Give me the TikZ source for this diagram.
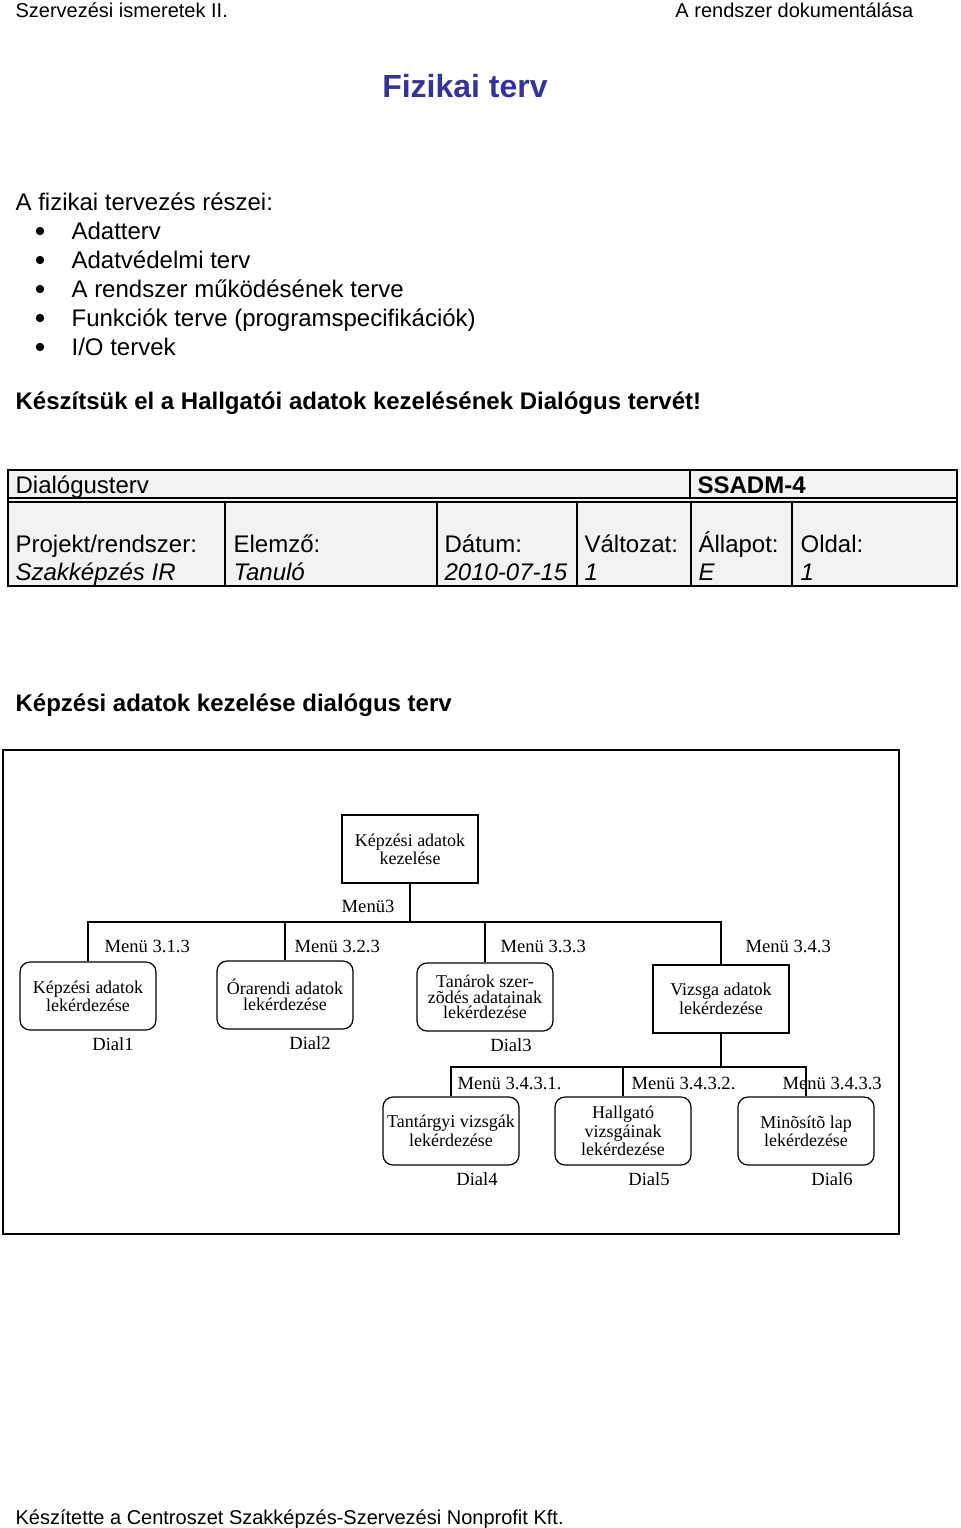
\documentclass[tikz,border=0pt]{standalone}
\usepackage{fontspec}
\setmainfont{Liberation Sans}
\newfontfamily\dlgfont{Liberation Serif}
\usetikzlibrary{positioning}
\definecolor{titleblue}{rgb}{0.2,0.2,0.6}
\definecolor{tablegray}{rgb}{0.95,0.95,0.95}

\begin{document}
\begin{tikzpicture}[
            x = 0.5pt, y = -0.5pt, % one unit = one pixel of the page
            semithick, % line style
            node distance = 3pt
            ]

        \tikzstyle{txt}=[anchor = base west, inner sep = 0, font = \fontsize{12}{14}\selectfont]
        \tikzstyle{small}=[txt, font = \fontsize{10}{12}\selectfont]
        \tikzstyle{bold}=[txt, font = \fontsize{12}{14}\selectfont\bfseries]
        \tikzstyle{dot}=[circle, fill, inner sep = 0, minimum size = 4.2pt]
        \tikzstyle{dlg}=[
            draw,
            rounded corners = 5pt,
            minimum width = 68pt,
            minimum height = 34pt,
            align = center,
            inner sep = 1pt,
            font = \dlgfont\fontsize{9}{7.9}\selectfont
        ]
        \tikzstyle{menubox}=[dlg, sharp corners]
        \tikzstyle{lbl}=[anchor = base west, inner sep = 0, font = \dlgfont\fontsize{9.3}{8}\selectfont]
        \tikzstyle{dial}=[inner sep = 0, font = \dlgfont\fontsize{9.3}{8}\selectfont]

	\useasboundingbox[fill = white] (0,0) rectangle (960,1528);

	% page head
	\node[small] (HL) at (15,17) {Szervezési ismeretek II.};
	\node[small, anchor = base east] (HR) at (914,17) {A rendszer dokumentálása};
	\node[inner sep = 0, anchor = base, font = \fontsize{16}{19}\selectfont\bfseries, text = titleblue] (T) at (465,97) {Fizikai terv};

	% list
	\node[txt] (I) at (15,210) {A fizikai tervezés részei:};
	\foreach \t [count = \i] in {Adatterv, Adatvédelmi terv, A rendszer működésének terve, Funkciók terve (programspecifikációk), I/O tervek} {
	    \node[dot] (P\i) at (40,202+29*\i) {};
	    \node[txt] (L\i) at (71,210+29*\i) {\t};
	}
	\node[bold] (K) at (15,409) {Készítsük el a Hallgatói adatok kezelésének Dialógus tervét!};

	% form head
	\draw[fill = tablegray] (8,470) rectangle (957,586);
	\draw (8,498) -- (957,498);
	\draw (8,502) -- (957,502);
	\draw (690,470) -- (690,498);
	\foreach \x in {225,437,577,691,792}
	    \draw (\x,502) -- (\x,586);
	\node[txt] (F0) at (15,493) {Dialógusterv};
	\node[bold] (F1) at (697,493) {SSADM-4};
	\node[txt] (A1) at (15,552) {Projekt/rendszer:};
	\node[txt] (A2) at (233,552) {Elemző:};
	\node[txt] (A3) at (444,552) {Dátum:};
	\node[txt] (A4) at (584,552) {Változat:};
	\node[txt] (A5) at (698,552) {Állapot:};
	\node[txt] (A6) at (800,552) {Oldal:};
	\node[txt, font = \fontsize{12}{14}\selectfont\itshape] (V1) at (15,580) {Szakképzés IR};
	\node[txt, font = \fontsize{12}{14}\selectfont\itshape] (V2) at (233,580) {Tanuló};
	\node[txt, font = \fontsize{12}{14}\selectfont\itshape] (V3) at (444,580) {2010-07-15};
	\node[txt, font = \fontsize{12}{14}\selectfont\itshape] (V4) at (584,580) {1};
	\node[txt, font = \fontsize{12}{14}\selectfont\itshape] (V5) at (698,580) {E};
	\node[txt, font = \fontsize{12}{14}\selectfont\itshape] (V6) at (800,580) {1};

	\node[bold] (S) at (15,711) {Képzési adatok kezelése dialógus terv};

	% dialogue tree
	\draw[line width = 1pt] (3,750) rectangle (899,1234);

	\node[menubox] (R) at (410,849) {Képzési adatok\\kezelése};

	\node[dlg] (B1) at (88,996) {Képzési adatok\\lekérdezése};
	\node[dlg] (B2) at (285,995) {Órarendi adatok\\lekérdezése};
	\node[dlg] (B3) at (485,997) {Tanárok szer-\\zõdés adatainak\\lekérdezése};
	\node[menubox] (B4) at (721,999) {Vizsga adatok\\lekérdezése};

	\coordinate (bus1) at (410,922);
	\draw (R.south) -- (bus1);
	\draw (B1.north) |- (bus1);
	\draw (B4.north) |- (bus1);
	\draw (B2.north) -- (B2.north |- bus1);
	\draw (B3.north) -- (B3.north |- bus1);

	\node[lbl, anchor = base east] (M0) at (395,912) {Menü3};
	\node[lbl] (M1) at (104,952) {Menü 3.1.3};
	\node[lbl] (M2) at (294,952) {Menü 3.2.3};
	\node[lbl] (M3) at (500,952) {Menü 3.3.3};
	\node[lbl] (M4) at (745,952) {Menü 3.4.3};

	\node[dial] (D1) [below = 3pt of B1, xshift = 12.5pt] {Dial1};
	\node[dial] (D2) [below = 3pt of B2, xshift = 12.5pt] {Dial2};
	\node[dial] (D3) [below = 3pt of B3, xshift = 13pt] {Dial3};

	% exam queries
	\node[dlg] (B5) at (451,1131) {Tantárgyi vizsgák\\lekérdezése};
	\node[dlg] (B6) at (623,1131) {Hallgató\\vizsgáinak\\lekérdezése};
	\node[dlg] (B7) at (806,1131) {Minõsítõ lap\\lekérdezése};

	\coordinate (bus2) at (721,1067);
	\draw (B4.south) -- (bus2);
	\draw (B5.north) |- (bus2);
	\draw (B7.north) |- (bus2);
	\draw (B6.north) -- (B6.north |- bus2);

	\node[lbl] (M5) at (457,1089) {Menü 3.4.3.1.};
	\node[lbl] (M6) at (631,1089) {Menü 3.4.3.2.};
	\node[lbl] (M7) at (782,1089) {Menü 3.4.3.3};

	\node[dial] (D4) [below = 3pt of B5, xshift = 13pt] {Dial4};
	\node[dial] (D5) [below = 3pt of B6, xshift = 13pt] {Dial5};
	\node[dial] (D6) [below = 3pt of B7, xshift = 13pt] {Dial6};

	% page foot
	\node[small] (FT) at (15,1524) {Készítette a Centroszet Szakképzés-Szervezési Nonprofit Kft.};

  \end{tikzpicture}
\end{document}
